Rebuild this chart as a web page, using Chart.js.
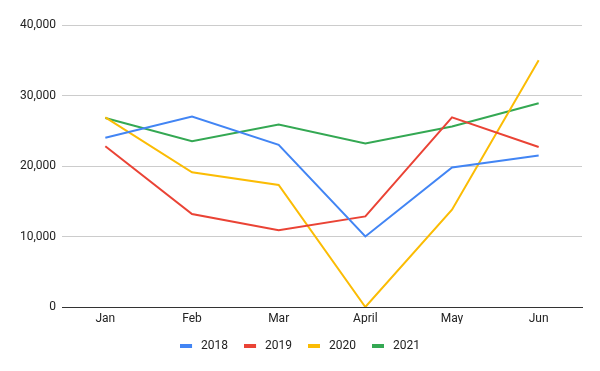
<!DOCTYPE html>
<html>
<head>
<meta charset="utf-8">
<script src="https://cdn.jsdelivr.net/npm/chart.js@4/dist/chart.umd.min.js"></script>
<style>
html,body{margin:0;padding:0;background:#fff;}
#wrap{width:600px;height:371px;position:relative;}
</style>
</head>
<body>
<div id="wrap"><canvas id="c" width="600" height="371"></canvas></div>
<script>
const categories = ["Jan", "Feb", "Mar", "April", "May", "Jun"];
const seriesNames = ["2018", "2019", "2020", "2021"];
const values2018 = [24000, 27000, 23000, 10000, 19800, 21500];
const values2019 = [22800, 13200, 10900, 12850, 26900, 22700];
const values2020 = [26900, 19100, 17300, 0, 13800, 35000];
const values2021 = [26800, 23500, 25900, 23200, 25600, 28900];
const yTicks = [0, 10000, 20000, 30000, 40000];
const colors = ["#4285F4", "#EA4335", "#FBBC04", "#34A853"];

const allValues = [values2018, values2019, values2020, values2021];

function legendSwatch(color) {
  const c = document.createElement("canvas");
  c.width = 15; c.height = 4;
  const g = c.getContext("2d");
  g.fillStyle = color;
  g.fillRect(0, 0, 12, 4);
  return c;
}

const FONT = "Roboto, 'Liberation Sans', Arial";

new Chart(document.getElementById("c"), {
  type: "line",
  data: {
    labels: categories,
    datasets: seriesNames.map((n, i) => ({
      label: n,
      data: allValues[i],
      borderColor: colors[i],
      backgroundColor: colors[i],
      borderWidth: 2,
      pointRadius: 0,
      pointStyle: legendSwatch(colors[i]),
      tension: 0,
      fill: false
    }))
  },
  options: {
    responsive: false,
    animation: false,
    devicePixelRatio: 1,
    layout: { padding: { top: 25, right: 0, left: 0, bottom: 9 } },
    plugins: {
      legend: {
        position: "bottom",
        labels: {
          usePointStyle: true,
          pointStyleWidth: 15,
          boxHeight: 4,
          padding: 16,
          color: "#222",
          font: { family: FONT, size: 12 }
        }
      },
      tooltip: { enabled: false }
    },
    scales: {
      x: {
        offset: true,
        grid: { display: false, drawTicks: false },
        border: { display: true, color: "#333", width: 1 },
        ticks: {
          color: "#222",
          padding: 5,
          font: { family: FONT, size: 12 }
        },
        afterFit: (s) => { s.height = 17; }
      },
      y: {
        min: 0,
        max: 40000,
        afterBuildTicks: (s) => { s.ticks = yTicks.map(v => ({ value: v })); },
        grid: {
          color: (ctx) => ctx.tick && ctx.tick.value === 0 ? "#333" : "#ccc",
          drawTicks: false
        },
        border: { display: false },
        ticks: {
          color: "#222",
          padding: 6,
          font: { family: FONT, size: 12 },
          callback: (v) => Number(v).toLocaleString("en-US")
        },
        afterFit: (s) => { s.width = 62; }
      },
      yRight: {
        position: "right",
        display: true,
        min: 0,
        max: 40000,
        grid: { display: false, drawTicks: false },
        border: { display: false },
        ticks: { display: false },
        afterFit: (s) => { s.width = 18; }
      }
    }
  }
});
</script>
</body>
</html>
